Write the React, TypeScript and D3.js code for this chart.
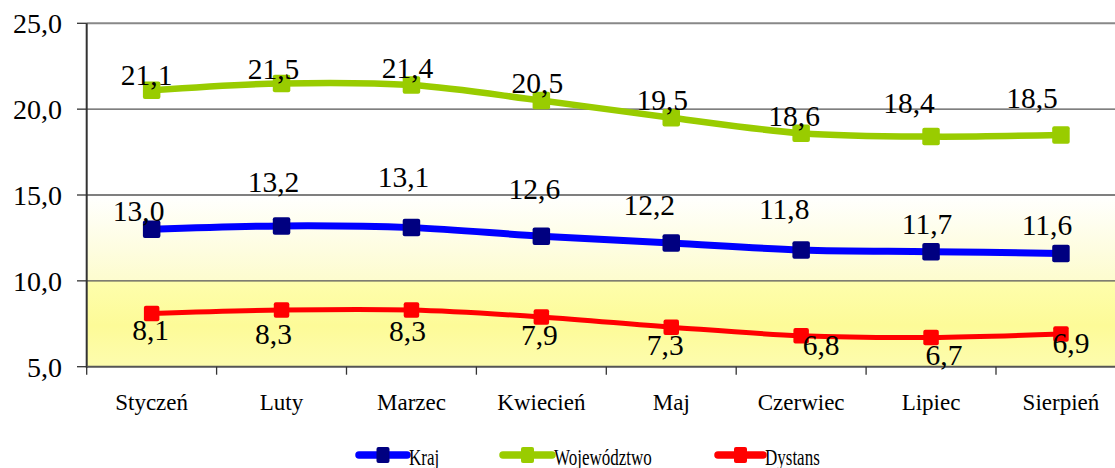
import React from "react";
import * as d3 from "d3";

const categories = ["Styczeń", "Luty", "Marzec", "Kwiecień", "Maj", "Czerwiec", "Lipiec", "Sierpień"];
const kraj = [13.0, 13.2, 13.1, 12.6, 12.2, 11.8, 11.7, 11.6];
const wojewodztwo = [21.1, 21.5, 21.4, 20.5, 19.5, 18.6, 18.4, 18.5];
const dystans = [8.1, 8.3, 8.3, 7.9, 7.3, 6.8, 6.7, 6.9];
const yTicks = [5, 10, 15, 20, 25];

// label offsets (dx, dy from point to label centre/baseline)
const wojLabelOffset: [number, number][] = [[-5, -5], [-8, -4], [-4, -7], [-4, -8], [-9, -8], [-7, -7], [-22, -24], [-29, -27]];
const krajLabelOffset: [number, number][] = [[-13, -8], [-8, -34], [-8, -41], [-7, -37], [-22, -28], [-17, -31], [-4, -18], [-14, -18]];
const dystLabelOffset: [number, number][] = [[-1, 27], [-8, 34], [-4, 31], [-2, 28.5], [-6, 27.5], [20, 19], [13, 27], [10, 19]];

const W = 1115;
const H = 468;
const left = 86.7;
const band = 129.9;
const top = 23.3;
const bottom = 366.7;

const FONT = '"Liberation Serif", monospace';

const fmt = (v: number) => v.toFixed(1).replace(".", ",");

export default function App() {
  const x = d3.scaleBand<string>().domain(categories).range([left, left + band * categories.length]);
  const cx = (i: number) => (x(categories[i]) as number) + x.bandwidth() / 2;
  const y = d3.scaleLinear().domain([5, 25]).range([bottom, top]);
  const line = d3
    .line<number>()
    .x((_, i) => cx(i))
    .y((d) => y(d))
    .curve(d3.curveCatmullRom.alpha(0.5));

  const series = [
    { name: "Kraj", data: kraj, color: "#0000ff", marker: "#000080", width: 7, size: 17.5, offs: krajLabelOffset },
    { name: "Województwo", data: wojewodztwo, color: "#99cc00", marker: "#99cc00", width: 6.5, size: 17.5, offs: wojLabelOffset },
    { name: "Dystans", data: dystans, color: "#ff0000", marker: "#ff0000", width: 5, size: 15.5, offs: dystLabelOffset },
  ];

  const legendItems = [
    { s: series[0], x0: 359, x1: 407, tx: 409 },
    { s: series[1], x0: 503, x1: 552, tx: 554 },
    { s: series[2], x0: 718, x1: 763, tx: 765 },
  ];

  const plotRight = left + band * categories.length;
  const ts: React.CSSProperties = { fontFamily: FONT };

  return (
    <svg width={W} height={H} style={{ position: "absolute", left: 0, top: 0, background: "#fff", fontFamily: FONT }}>
      <defs>
        <linearGradient id="bg" x1="0" y1="0" x2="0" y2="1">
          <stop offset="0" stopColor="#ffffff" />
          <stop offset="0.5" stopColor="#ffffff" />
          <stop offset="0.749" stopColor="#fdfcce" />
          <stop offset="0.752" stopColor="#fefeac" />
          <stop offset="0.88" stopColor="#fdfb98" />
          <stop offset="1" stopColor="#fdfcae" />
        </linearGradient>
      </defs>
      <rect x={left} y={top} width={plotRight - left} height={bottom - top} fill="url(#bg)" />
      {yTicks.filter((t) => t !== 5 && t !== 25).map((t) => (
        <line key={t} x1={left} x2={plotRight} y1={y(t)} y2={y(t)} stroke="#555" strokeWidth={1.3} />
      ))}
      <line x1={left} x2={plotRight} y1={y(25)} y2={y(25)} stroke="#888" strokeWidth={2} />
      <line x1={left} x2={left} y1={top} y2={bottom + 1} stroke="#333" strokeWidth={2} />
      <line x1={left} x2={plotRight} y1={bottom} y2={bottom} stroke="#555" strokeWidth={2} />
      {yTicks.map((t) => (
        <g key={t}>
          <line x1={77} x2={left} y1={y(t)} y2={y(t)} stroke="#333" strokeWidth={1.3} />
          <text x={62} y={y(t)} dy="0.35em" textAnchor="end" fontSize={28} style={ts}>
            {fmt(t)}
          </text>
        </g>
      ))}
      {d3.range(categories.length + 1).map((i) => (
        <line key={i} x1={left + i * band} x2={left + i * band} y1={bottom} y2={bottom + 8} stroke="#333" strokeWidth={1.3} />
      ))}
      {categories.map((c, i) => (
        <text key={c} x={cx(i)} y={410} textAnchor="middle" fontSize={23} style={ts}>
          {c}
        </text>
      ))}
      {series.map((s) => (
        <g key={s.name}>
          <path d={line(s.data) || ""} fill="none" stroke={s.color} strokeWidth={s.width} strokeLinejoin="round" />
          {s.data.map((v, i) => (
            <rect
              key={i}
              x={cx(i) - s.size / 2}
              y={y(v) - s.size / 2}
              width={s.size}
              height={s.size}
              rx={2}
              fill={s.marker}
            />
          ))}
        </g>
      ))}
      {series.map((s) => (
        <g key={s.name + "-lab"}>
          {s.data.map((v, i) => (
            <text key={i} x={cx(i) + s.offs[i][0]} y={y(v) + s.offs[i][1]} textAnchor="middle" fontSize={29.5} style={ts}>
              {fmt(v)}
            </text>
          ))}
        </g>
      ))}
      {legendItems.map(({ s, x0, x1, tx }) => (
        <g key={s.name + "-leg"}>
          <line x1={x0} x2={x1} y1={455} y2={455} stroke={s.color} strokeWidth={7.5} strokeLinecap="round" />
          <rect x={(x0 + x1) / 2 - 6.5} y={447} width={13} height={16} rx={2} fill={s.marker} />
          <text transform={`translate(${tx},465) scale(1,1.3)`} fontSize={17} style={ts}>
            {s.name}
          </text>
        </g>
      ))}
    </svg>
  );
}
